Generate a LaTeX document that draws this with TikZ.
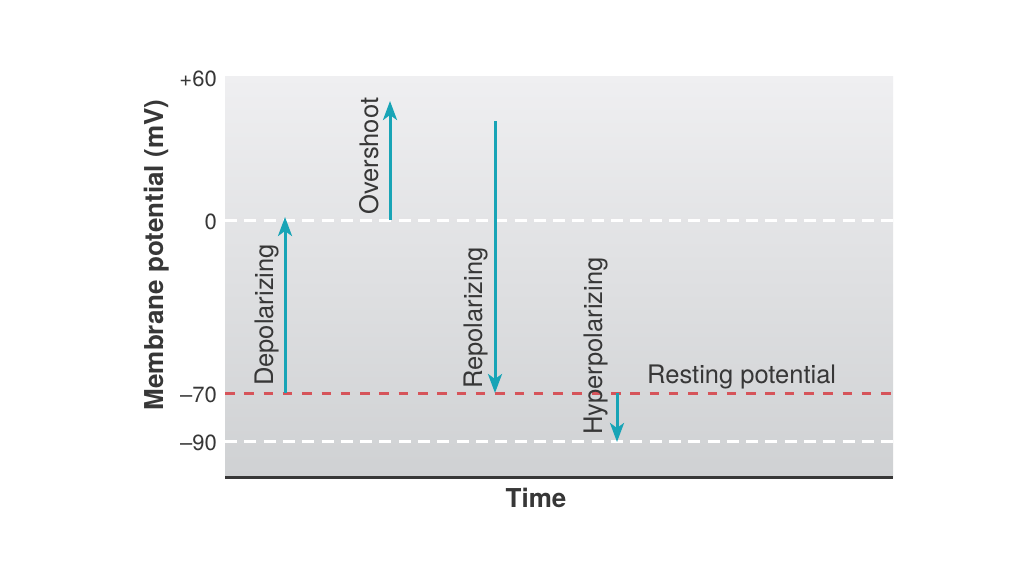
\documentclass[tikz,border=0pt]{standalone}
\usepackage{fontspec}
\setmainfont{TeX Gyre Heros}
\usetikzlibrary{arrows.meta}
\definecolor{bgtop}{RGB}{239,239,241}
\definecolor{bgbottom}{RGB}{207,209,211}
\definecolor{teal}{RGB}{24,164,182}
\definecolor{restred}{RGB}{214,84,90}
\definecolor{ink}{RGB}{55,55,55}
\newcommand{\levelline}[2]{\draw[line width=3pt, #2] (225,#1)--(893,#1);}
\newcommand{\potarrow}[3]{
    \coordinate (#1-s) at #2;
    \coordinate (#1-e) at #3;
    \draw[line width=3pt, teal, -{Stealth[length=19pt,width=14pt,inset=5pt]}] (#1-s)--(#1-e);
}
\tikzset{
    textlabel/.style={inner sep=0pt, text=ink, anchor=base west, font=\fontsize{25.5}{30}\selectfont},
    arrowlabel/.style={textlabel, rotate=90},
    ticklabel/.style={inner sep=0pt, text=ink, anchor=base east, font=\fontsize{22}{26}\selectfont},
    axislabel/.style={inner sep=0pt, text=ink, anchor=base, font=\fontsize{26}{30}\selectfont\bfseries}
}
\begin{document}
\begin{tikzpicture}[x=1pt,y=-1pt]
\useasboundingbox[fill=white] (0,0) rectangle (1024,574);
\shade[top color=bgtop, bottom color=bgbottom] (225,76) rectangle (893,477);
\levelline{220}{white, dash pattern=on 12pt off 7.3pt}
\levelline{441}{white, dash pattern=on 12pt off 7.3pt}
\levelline{393}{restred, dash pattern=on 9.5pt off 9.8pt}
\draw[line width=3pt, ink] (225,477)--(893,477);
\foreach \y/\lab/\nm in {86/+60/tplus60, 229/0/tzero, 402/--70/tminus70, 450/--90/tminus90}{
    \node[ticklabel] (\nm) at (217,\y) {\lab};
}
\potarrow{dep}{(285,393)}{(285,217)}
\potarrow{over}{(390,220)}{(390,101)}
\potarrow{repol}{(495,121)}{(495,393)}
\potarrow{hyper}{(617,393)}{(617,442)}
\node[arrowlabel] (deplab) at (273,386) {Depolarizing};
\node[arrowlabel] (overlab) at (378,215) {Overshoot};
\node[arrowlabel] (repollab) at (482,389) {Repolarizing};
\node[arrowlabel] (hyperlab) at (602,435) {Hyperpolarizing};
\node[textlabel] (restlab) at (647,383) {Resting potential};
\node[axislabel, rotate=90] (ylab) at (163,255) {Membrane potential (mV)};
\node[axislabel] (xlab) at (536,507) {Time};
\end{tikzpicture}
\end{document}
